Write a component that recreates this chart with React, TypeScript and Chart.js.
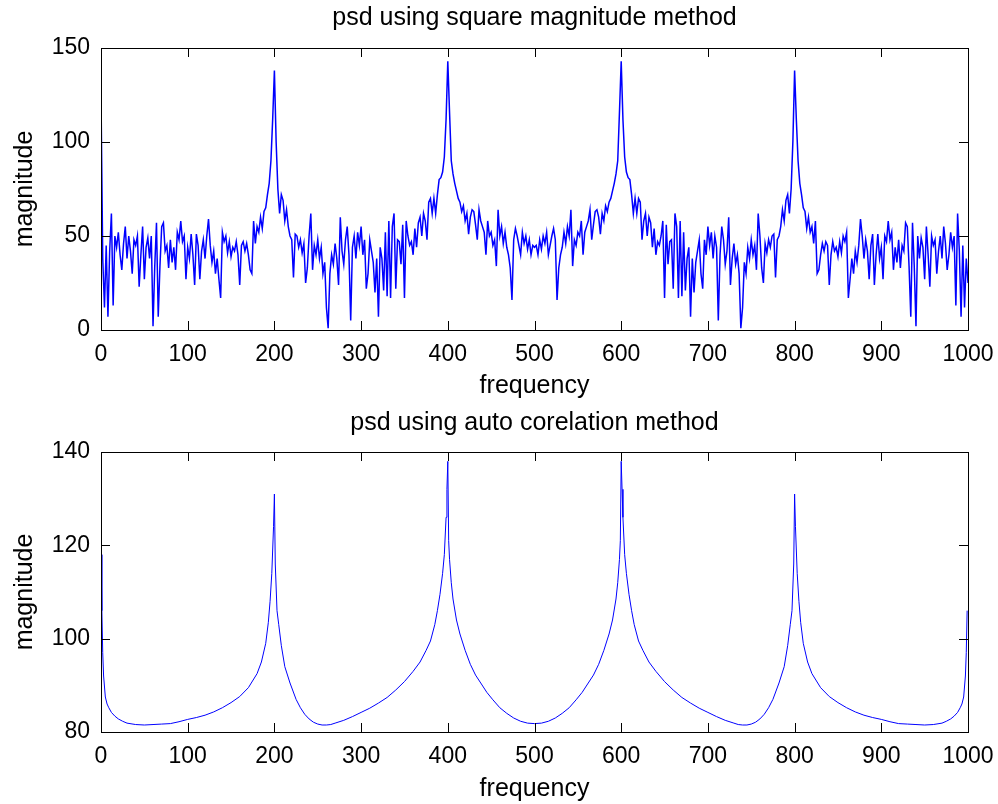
import React, { useEffect, useRef } from "react";
import { Chart, registerables } from "chart.js";

Chart.register(...registerables);

// ---------- data ----------
// Top panel: squared-magnitude PSD, sampled every 2 Hz from 0 to 1000
const FREQ_STEP_A = 2;
const magA: number[] = [
  124, 38, 12, 45, 7, 42, 62, 13, 50, 44,
  52, 40, 32, 46, 55, 38, 50, 42, 30, 48,
  45, 50, 23, 40, 55, 27, 44, 49, 38, 50,
  2, 34, 57, 7, 34, 55, 57, 42, 45, 33,
  48, 36, 44, 32, 52, 48, 58, 47, 50, 27,
  44, 38, 51, 40, 24, 51, 45, 27, 42, 48,
  38, 50, 59, 45, 36, 42, 30, 38, 27, 17,
  52, 47, 50, 41, 47, 39, 44, 42, 47, 40,
  24, 45, 47, 42, 46, 40, 32, 30, 58, 46,
  55, 52, 60, 54, 63, 65, 72, 78, 90, 112,
  138, 100, 75, 62, 72, 69, 58, 64, 55, 50,
  48, 28, 51, 50, 44, 48, 41, 46, 25, 33,
  50, 62, 32, 45, 40, 48, 38, 44, 30, 36,
  12, 1, 30, 40, 35, 46, 38, 24, 60, 42,
  35, 48, 55, 40, 5, 44, 50, 38, 52, 45,
  55, 40, 48, 22, 30, 48, 42, 36, 20, 38,
  7, 44, 38, 21, 52, 18, 58, 17, 55, 62,
  22, 48, 47, 35, 56, 17, 58, 50, 45, 47,
  40, 54, 44, 57, 60, 50, 62, 58, 48, 68,
  70, 62, 70, 62, 72, 80, 81, 84, 92, 112,
  143, 116, 90, 83, 78, 74, 70, 68, 63, 66,
  58, 62, 51, 60, 64, 63, 56, 48, 64, 58,
  55, 52, 40, 58, 50, 52, 45, 48, 34, 64,
  50, 55, 46, 52, 44, 40, 33, 16, 48, 54,
  50, 45, 40, 52, 46, 50, 43, 48, 40, 45,
  44,
  45, 40, 48, 43, 50, 46, 52, 40, 45, 50,
  54, 48, 16, 33, 40, 44, 52, 46, 55, 50,
  64, 34, 48, 45, 52, 50, 58, 40, 52, 55,
  58, 64, 48, 56, 63, 64, 60, 51, 62, 58,
  66, 63, 68, 70, 74, 78, 83, 90, 116, 143,
  112, 92, 84, 81, 80, 72, 62, 70, 62, 70,
  68, 48, 58, 62, 50, 60, 57, 44, 54, 40,
  47, 45, 50, 58, 17, 56, 35, 47, 48, 22,
  62, 55, 17, 58, 18, 52, 21, 38, 44, 7,
  38, 20, 36, 42, 48, 30, 22, 48, 40, 55,
  45, 52, 38, 50, 44, 5, 40, 55, 48, 35,
  42, 60, 24, 38, 46, 35, 40, 30, 1, 12,
  36, 30, 44, 38, 48, 40, 45, 32, 62, 50,
  33, 25, 46, 41, 48, 44, 50, 51, 28, 48,
  50, 55, 64, 58, 69, 72, 62, 75, 100, 138,
  112, 90, 78, 72, 65, 63, 54, 60, 52, 55,
  46, 58, 30, 32, 40, 46, 42, 47, 45, 24,
  40, 47, 42, 44, 39, 47, 41, 50, 47, 52,
  17, 27, 38, 30, 42, 36, 45, 59, 50, 38,
  48, 42, 27, 45, 51, 24, 40, 51, 38, 44,
  27, 50, 47, 58, 48, 52, 32, 44, 36, 48,
  33, 45, 42, 57, 55, 34, 7, 57, 34, 2,
  50, 38, 49, 44, 27, 55, 40, 23, 50, 45,
  48, 30, 42, 50, 38, 55, 46, 32, 40, 52,
  44, 50, 13, 62, 42, 7, 45, 12, 38, 25,
];
const freqA: number[] = magA.map((_, i) => i * FREQ_STEP_A);

// Bottom panel: auto-correlation PSD
const freqB: number[] = [
  0, 1, 2, 3, 5, 7, 9, 12, 16, 20, 25, 30, 40, 50, 60, 70, 80, 90, 100, 110,
  120, 130, 140, 150, 160, 170, 180, 185, 190, 193, 195, 197, 199, 200, 201, 203,
  205, 208, 212, 218, 225, 230, 235, 240, 245, 250, 255, 260, 265, 270, 280, 290,
  300, 310, 320, 330, 340, 350, 360, 368, 375, 380, 385, 388, 391, 394, 396, 398,
  399, 400, 401, 402, 404, 406, 410, 414, 420, 426, 432, 438, 445, 452, 460, 468,
  476, 484, 492, 500,
  508, 516, 524, 532, 540, 548, 555, 562, 568, 574, 580, 586, 590, 594, 596, 598,
  599, 600, 601, 602, 604, 606, 609, 612, 615, 620, 625, 632, 640, 650, 660, 670,
  680, 690, 700, 710, 720, 730, 735, 740, 745, 750, 755, 760, 765, 770, 775, 782,
  788, 792, 795, 797, 799, 800, 801, 803, 805, 807, 810, 815, 820, 830, 840, 850,
  860, 870, 880, 890, 900, 910, 920, 930, 940, 950, 960, 970, 975, 980, 984, 988,
  991, 993, 995, 997, 998, 999,
];
const magB: number[] = [
  118, 106, 97, 92, 87.5, 86, 85.2, 84.2, 83.4, 82.8, 82.3, 81.9, 81.6, 81.5, 81.6, 81.7, 81.8, 82.2, 82.7, 83.1,
  83.6, 84.3, 85.2, 86.3, 87.6, 89.5, 92.5, 95, 99, 103.5, 108, 114, 124, 131, 116, 106,
  103, 98.5, 94, 90.5, 87, 85.2, 83.8, 82.8, 82.1, 81.7, 81.5, 81.5, 81.6, 81.9, 82.5, 83.3,
  84.2, 85.1, 86.2, 87.4, 89, 90.8, 93, 95, 97.5, 99.5, 103, 106, 109.5, 114, 118, 126,
  132, 138, 121, 117, 112, 108.5, 104, 101, 97.5, 94.5, 92.2, 90.5, 88.5, 86.9, 85.2, 84,
  83, 82.3, 81.9, 81.8,
  81.9, 82.3, 83, 84, 85.2, 86.9, 88.5, 90.5, 92.2, 94.5, 97.5, 101, 104, 108.5, 112, 117,
  121, 138, 132, 126, 118, 114, 109.5, 106, 103, 99.5, 97.5, 95, 93, 90.8, 89, 87.4,
  86.2, 85.1, 84.2, 83.3, 82.5, 81.9, 81.6, 81.5, 81.5, 81.7, 82.1, 82.8, 83.8, 85.2, 87, 90.5,
  94, 98.5, 103, 106, 116, 131, 124, 114, 108, 103.5, 99, 95, 92.5, 89.5, 87.6, 86.3,
  85.2, 84.3, 83.6, 83.1, 82.7, 82.2, 81.8, 81.7, 81.6, 81.5, 81.6, 81.9, 82.3, 82.8, 83.4, 84.2,
  85.2, 86, 87.5, 92, 97, 106,
];

const xTickValues: number[] = [0, 100, 200, 300, 400, 500, 600, 700, 800, 900, 1000];
const yTickValuesA: number[] = [0, 50, 100, 150];
const yTickValuesB: number[] = [80, 100, 120, 140];

const titleA = "psd using square magnitude method";
const titleB = "psd using auto corelation method";
const xLabel = "frequency";
const yLabel = "magnitude";

// ---------- styling ----------
const FONT = "'Liberation Sans', Arial, Helvetica, sans-serif";
const W = 998;
const H = 402;

const boxPlugin = {
  id: "matlabBox",
  afterDatasetsDraw(chart: any) {
    const { ctx, chartArea } = chart;
    const { left, right, top, bottom } = chartArea;
    const xs = chart.scales.x;
    const ys = chart.scales.y;
    const L = 9;
    ctx.save();
    ctx.strokeStyle = "#000";
    ctx.lineWidth = 1;
    ctx.beginPath();
    xs.ticks.forEach((t: any) => {
      const px = Math.round(xs.getPixelForValue(t.value)) + 0.5;
      ctx.moveTo(px, bottom);
      ctx.lineTo(px, bottom - L);
      ctx.moveTo(px, top);
      ctx.lineTo(px, top + L);
    });
    ys.ticks.forEach((t: any) => {
      const py = Math.round(ys.getPixelForValue(t.value)) + 0.5;
      ctx.moveTo(left, py);
      ctx.lineTo(left + L, py);
      ctx.moveTo(right, py);
      ctx.lineTo(right - L, py);
    });
    ctx.stroke();
    ctx.strokeRect(
      Math.round(left) + 0.5,
      Math.round(top) + 0.5,
      Math.round(right - left),
      Math.round(bottom - top)
    );
    ctx.restore();
  },
};

const plainLabel = (v: any) => String(v);

function makeConfig(
  freq: number[],
  mag: number[],
  yTicks: number[],
  title: string,
  titlePad: { top: number; bottom: number },
  xTitlePadBottom: number,
  lineWidth: number
): any {
  const data = freq.map((f, i) => ({ x: f, y: mag[i] }));
  return {
    type: "line",
    data: {
      datasets: [
        {
          data,
          borderColor: "rgb(0,0,255)",
          borderWidth: lineWidth,
          pointRadius: 0,
          tension: 0,
          fill: false,
        },
      ],
    },
    plugins: [boxPlugin],
    options: {
      responsive: false,
      animation: false,
      devicePixelRatio: 1,
      layout: { padding: { left: 0, right: 30, top: 0, bottom: 0 } },
      plugins: {
        legend: { display: false },
        tooltip: { enabled: false },
        title: {
          display: true,
          text: title,
          fullSize: false,
          color: "#000",
          font: { family: FONT, size: 25, weight: "normal" },
          padding: titlePad,
        },
      },
      scales: {
        x: {
          type: "linear",
          min: xTickValues[0],
          max: xTickValues[xTickValues.length - 1],
          afterBuildTicks: (s: any) => {
            s.ticks = xTickValues.map((v) => ({ value: v }));
          },
          afterFit: (s: any) => {
            s.height = 72;
            s.paddingRight = 20;
            s.paddingLeft = 10;
          },
          grid: { display: false, drawTicks: false },
          border: { display: false },
          ticks: {
            autoSkip: false,
            maxRotation: 0,
            padding: 11,
            color: "#000",
            font: { family: FONT, size: 23 },
            callback: plainLabel,
          },
          title: {
            display: true,
            text: xLabel,
            color: "#000",
            font: { family: FONT, size: 25 },
            padding: { top: 0, bottom: xTitlePadBottom },
          },
        },
        y: {
          type: "linear",
          min: yTicks[0],
          max: yTicks[yTicks.length - 1],
          afterBuildTicks: (s: any) => {
            s.ticks = yTicks.map((v) => ({ value: v }));
          },
          afterFit: (s: any) => {
            s.width = 101;
          },
          grid: { display: false, drawTicks: false },
          border: { display: false },
          ticks: {
            padding: 11,
            color: "#000",
            font: { family: FONT, size: 23 },
            callback: plainLabel,
          },
          title: {
            display: true,
            text: yLabel,
            color: "#000",
            font: { family: FONT, size: 25 },
            padding: { top: 10, bottom: 0 },
          },
        },
      },
    },
  };
}

function ChartCanvas({ config, top }: { config: any; top: number }) {
  const ref = useRef<HTMLCanvasElement | null>(null);
  useEffect(() => {
    if (!ref.current) return;
    const chart = new Chart(ref.current, config);
    return () => chart.destroy();
  }, [config]);
  return (
    <canvas
      ref={ref}
      width={W}
      height={H}
      style={{ position: "absolute", left: 0, top, width: W, height: H, display: "block" }}
    />
  );
}

const configA = makeConfig(freqA, magA, yTickValuesA, titleA, { top: 3, bottom: 15 }, 1, 1.5);
const configB = makeConfig(freqB, magB, yTickValuesB, titleB, { top: 6, bottom: 14 }, 0, 1);

export default function App() {
  return (
    <div
      style={{
        position: "absolute",
        left: 0,
        top: 0,
        width: W,
        height: 804,
        overflow: "hidden",
        background: "#fff",
      }}
    >
      <ChartCanvas config={configA} top={0} />
      <ChartCanvas config={configB} top={H} />
    </div>
  );
}
